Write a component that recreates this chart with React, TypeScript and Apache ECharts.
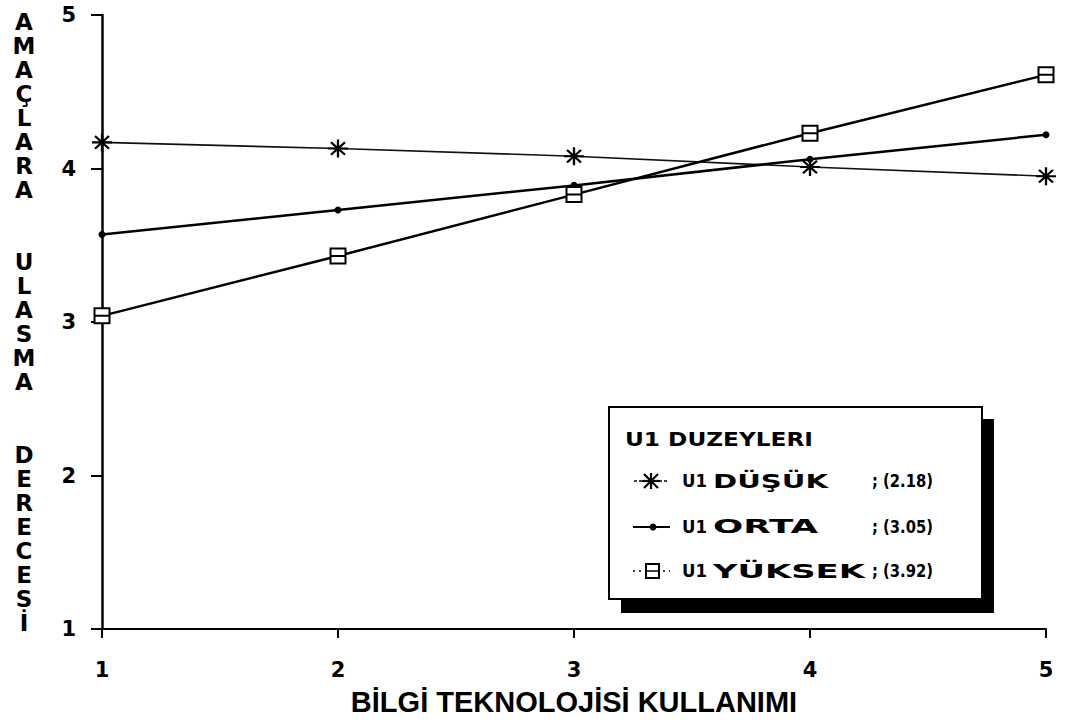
import React, { useEffect, useRef } from "react";
import * as echarts from "echarts";

// ---- data ----
const xLevels = [1, 2, 3, 4, 5];
const dusukValues = [4.17, 4.13, 4.08, 4.01, 3.95];
const ortaValues = [3.57, 3.73, 3.89, 4.06, 4.22];
const yuksekValues = [3.04, 3.43, 3.83, 4.23, 4.61];
const seriesNames = ["U1 DÜŞÜK", "U1 ORTA", "U1 YÜKSEK"];
const legendTitle = "U1 DUZEYLERI";
const legendLevels = ["DÜŞÜK", "ORTA", "YÜKSEK"];
const legendMeans = ["; (2.18)", "; (3.05)", "; (3.92)"];
const xAxisTitle = "BİLGİ TEKNOLOJİSİ KULLANIMI";
const yTitleWords = ["AMAÇLARA", "ULASMA", "DERECESİ"];

const FONT = "Liberation Sans, Arial, Helvetica, sans-serif";
const HEAVY = "DejaVu Sans, Liberation Sans, Arial, sans-serif";

function measure(text: string, size: number, family: string): number {
  const c = document.createElement("canvas").getContext("2d");
  if (!c) return text.length * size * 0.65;
  c.font = `bold ${size}px ${family}`;
  return c.measureText(text).width;
}

function stretchedText(text: string, x: number, y: number, size: number, targetW: number | null, family = HEAVY) {
  const w = measure(text, size, family);
  const s = targetW ? targetW / w : 1;
  return {
    type: "text",
    x,
    y,
    scaleX: s,
    z: 20,
    style: {
      text,
      x: 0,
      y: 0,
      fill: "#000",
      fontSize: size,
      fontWeight: "bold",
      fontFamily: family,
      align: "left",
      verticalAlign: "middle",
    },
  };
}

const ASTERISK = "path://M10 0L10 20M0 10L20 10M3 3L17 17M3 17L17 3";
const BOXSYM = "path://M0 0L14 0L14 14L0 14ZM0 7L14 7";

export default function App() {
  const ref = useRef<HTMLDivElement>(null);

  useEffect(() => {
    if (!ref.current) return;
    const chart = echarts.init(ref.current, undefined, { renderer: "svg" });

    const toPairs = (vals: number[]) => xLevels.map((x, i) => [x, vals[i]]);

    // legend graphic
    const rowY = [481, 527, 571];
    const levelWidths = [115, 105, 152];
    const legendGraphics: any[] = [
      { type: "rect", z: 18, shape: { x: 621, y: 419, width: 373, height: 194 }, style: { fill: "#000" } },
      { type: "rect", z: 19, shape: { x: 609, y: 407, width: 373, height: 192 }, style: { fill: "#fff", stroke: "#000", lineWidth: 2 } },
      stretchedText(legendTitle, 625, 439, 19, 188),
    ];
    const ax = 651, ay = rowY[0];
    legendGraphics.push(
      { type: "line", z: 20, shape: { x1: 634, y1: ay, x2: 669, y2: ay }, style: { stroke: "#000", lineWidth: 1.5, lineDash: [3, 2] } },
      { type: "line", z: 20, shape: { x1: ax, y1: ay - 8, x2: ax, y2: ay + 8 }, style: { stroke: "#000", lineWidth: 2.2 } },
      { type: "line", z: 20, shape: { x1: ax - 9, y1: ay, x2: ax + 9, y2: ay }, style: { stroke: "#000", lineWidth: 2.2 } },
      { type: "line", z: 20, shape: { x1: ax - 7, y1: ay - 7, x2: ax + 7, y2: ay + 7 }, style: { stroke: "#000", lineWidth: 2.2 } },
      { type: "line", z: 20, shape: { x1: ax - 7, y1: ay + 7, x2: ax + 7, y2: ay - 7 }, style: { stroke: "#000", lineWidth: 2.2 } }
    );
    legendGraphics.push(
      { type: "line", z: 20, shape: { x1: 633, y1: rowY[1], x2: 670, y2: rowY[1] }, style: { stroke: "#000", lineWidth: 2.2 } },
      { type: "circle", z: 21, shape: { cx: 653, cy: rowY[1], r: 3.5 }, style: { fill: "#000" } }
    );
    legendGraphics.push(
      { type: "line", z: 20, shape: { x1: 633, y1: rowY[2], x2: 670, y2: rowY[2] }, style: { stroke: "#000", lineWidth: 1.5, lineDash: [2, 4] } },
      { type: "rect", z: 21, shape: { x: 646, y: rowY[2] - 7, width: 13, height: 14 }, style: { fill: "#fff", stroke: "#000", lineWidth: 2 } },
      { type: "line", z: 22, shape: { x1: 646, y1: rowY[2], x2: 659, y2: rowY[2] }, style: { stroke: "#000", lineWidth: 1.5 } }
    );
    legendLevels.forEach((lv, i) => {
      legendGraphics.push(stretchedText("U1", 682, rowY[i], 18, 25));
      legendGraphics.push(stretchedText(lv, 713, rowY[i], 19, levelWidths[i]));
      legendGraphics.push(stretchedText(legendMeans[i], 872, rowY[i], 18, 61));
    });

    // y-axis title (stacked letters)
    const wordCenters = [106, 322, 539];
    const yTitle = yTitleWords.map((w, i) => ({
      type: "text",
      x: 24,
      y: wordCenters[i],
      z: 20,
      style: {
        text: w.split("").join("\n"),
        x: 0,
        y: 0,
        fill: "#000",
        fontSize: 23,
        fontWeight: "bold",
        fontFamily: HEAVY,
        lineHeight: 24,
        align: "center",
        verticalAlign: "middle",
      },
    }));

    chart.setOption({
      animation: false,
      backgroundColor: "#fff",
      grid: { left: 102, right: 28, top: 15, bottom: 95, containLabel: false },
      xAxis: {
        type: "value",
        min: 1,
        max: 5,
        interval: 1,
        name: xAxisTitle,
        nameLocation: "middle",
        nameGap: 58,
        nameTextStyle: { fontSize: 29, fontWeight: "bold", fontFamily: FONT, color: "#000" },
        axisLine: { show: true, onZero: false, lineStyle: { color: "#000", width: 2 } },
        axisTick: { show: true, length: 9, lineStyle: { color: "#000", width: 2 } },
        splitLine: { show: false },
        axisLabel: { show: true, margin: 30, fontSize: 21, fontWeight: "bold", fontFamily: HEAVY, color: "#000" },
      },
      yAxis: {
        type: "value",
        min: 1,
        max: 5,
        interval: 1,
        axisLine: { show: true, onZero: false, lineStyle: { color: "#000", width: 2.5 } },
        axisTick: { show: true, length: 11, lineStyle: { color: "#000", width: 2 } },
        splitLine: { show: false },
        axisLabel: { show: true, inside: false, margin: 26, fontSize: 21, fontWeight: "bold", fontFamily: HEAVY, color: "#000" },
      },
      series: [
        {
          name: seriesNames[0],
          type: "line",
          data: toPairs(dusukValues),
          symbol: ASTERISK,
          symbolSize: [20, 18],
          lineStyle: { color: "#111", width: 1.6 },
          itemStyle: { color: "rgba(0,0,0,0)", borderColor: "#000", borderWidth: 2.2 },
          z: 3,
        },
        {
          name: seriesNames[1],
          type: "line",
          data: toPairs(ortaValues),
          symbol: "circle",
          symbolSize: 7,
          lineStyle: { color: "#000", width: 2.5 },
          itemStyle: { color: "#000", borderWidth: 0 },
          z: 3,
        },
        {
          name: seriesNames[2],
          type: "line",
          data: toPairs(yuksekValues),
          symbol: BOXSYM,
          symbolSize: 15,
          lineStyle: { color: "#000", width: 2.5 },
          itemStyle: { color: "#fff", borderColor: "#000", borderWidth: 2 },
          z: 4,
        },
      ],
      graphic: [...yTitle, ...legendGraphics],
    });

    return () => chart.dispose();
  }, []);

  return (
    <div
      ref={ref}
      style={{ position: "absolute", left: 0, top: 0, width: 1074, height: 724, background: "#fff" }}
    />
  );
}
